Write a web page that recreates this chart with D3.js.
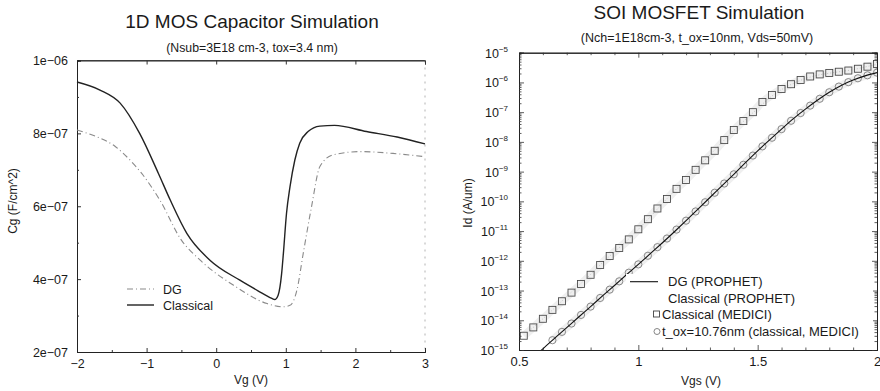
<!DOCTYPE html>
<html><head><meta charset="utf-8">
<script src="https://cdn.jsdelivr.net/npm/d3@7/dist/d3.min.js"></script>
<style>
html,body{margin:0;padding:0;background:#fff;}
svg{display:block;font-family:"Liberation Sans",Arial,Helvetica,sans-serif;}
</style></head>
<body>
<svg id="c" width="880" height="391"></svg>
<script>
// ---------- Left chart data: 1D MOS capacitor ----------
const vgClassical = [-2, -1.67, -1.38, -1.1, -0.83, -0.66, -0.42, -0.09, 0.34, 0.6, 0.8, 0.84, 0.89, 0.94, 0.965, 1.01, 1.06, 1.13, 1.2, 1.32, 1.49, 1.7, 2.16, 2.6, 3.0];
const cgClassical = [9.41e-7, 9.19e-7, 8.83e-7, 8.0e-7, 6.9e-7, 6.17e-7, 5.25e-7, 4.52e-7, 3.97e-7, 3.68e-7, 3.47e-7, 3.44e-7, 3.56e-7, 4.15e-7, 4.7e-7, 5.8e-7, 6.53e-7, 7.27e-7, 7.73e-7, 8.05e-7, 8.2e-7, 8.22e-7, 8.05e-7, 7.9e-7, 7.71e-7];
const vgDG = [-2, -1.72, -1.45, -1.24, -1.07, -0.81, -0.5, -0.23, 0.25, 0.73, 0.96, 1.06, 1.16, 1.25, 1.37, 1.49, 1.68, 2.07, 2.54, 3.0];
const cgDG = [8.09e-7, 7.91e-7, 7.64e-7, 7.27e-7, 6.9e-7, 6.17e-7, 5.07e-7, 4.52e-7, 3.83e-7, 3.33e-7, 3.24e-7, 3.28e-7, 3.7e-7, 4.7e-7, 5.99e-7, 7.09e-7, 7.41e-7, 7.5e-7, 7.45e-7, 7.36e-7];
const vgTicks = [-2, -1, 0, 1, 2, 3];
const cgTicks = [2e-7, 4e-7, 6e-7, 8e-7, 1e-6];
const cgTickLabels = ["2e\u221207", "4e\u221207", "6e\u221207", "8e\u221207", "1e\u221206"];
const leftLegend = ["DG", "Classical"];

// ---------- Right chart data: SOI MOSFET (log10 of Id in A/um) ----------
const vgsLine = [0.55,0.6,0.65,0.7,0.75,0.8,0.85,0.9,0.95,1.0,1.05,1.1,1.15,1.2,1.25,1.3,1.35,1.4,1.45,1.5,1.55,1.6,1.65,1.7,1.75,1.8,1.85,1.9,1.95,2.0];
const logIdDGProphet = [-15.32,-14.96,-14.60,-14.25,-13.89,-13.54,-13.18,-12.83,-12.47,-12.12,-11.76,-11.40,-11.03,-10.65,-10.26,-9.87,-9.48,-9.09,-8.69,-8.30,-7.93,-7.57,-7.22,-6.90,-6.60,-6.33,-6.10,-5.92,-5.78,-5.67];
const logIdClassicalProphet = [-14.31,-13.95,-13.58,-13.20,-12.83,-12.46,-12.06,-11.70,-11.34,-10.94,-10.52,-10.08,-9.66,-9.26,-8.84,-8.44,-8.02,-7.62,-7.24,-6.88,-6.52,-6.24,-6.03,-5.87,-5.76,-5.69,-5.63,-5.57,-5.48,-5.39];
const vgsSquares = [0.52,0.56,0.60,0.64,0.68,0.72,0.76,0.80,0.84,0.88,0.92,0.96,1.00,1.04,1.08,1.12,1.16,1.20,1.24,1.28,1.32,1.36,1.40,1.44,1.48,1.52,1.56,1.60,1.64,1.68,1.72,1.76,1.80,1.84,1.88,1.92,1.96,2.00];
const logIdClassicalMedici = [-14.52,-14.24,-13.95,-13.65,-13.36,-13.07,-12.78,-12.47,-12.14,-11.84,-11.57,-11.28,-10.94,-10.60,-10.24,-9.92,-9.58,-9.28,-8.94,-8.62,-8.30,-7.94,-7.60,-7.30,-7.00,-6.66,-6.42,-6.22,-6.06,-5.92,-5.80,-5.73,-5.68,-5.64,-5.60,-5.54,-5.47,-5.38];
const vgsCircles = [0.64,0.68,0.72,0.76,0.80,0.84,0.88,0.92,0.96,1.00,1.04,1.08,1.12,1.16,1.20,1.24,1.28,1.32,1.36,1.40,1.44,1.48,1.52,1.56,1.60,1.64,1.68,1.72,1.76,1.80,1.84,1.88,1.92,1.96,2.00];
const logIdTox1076 = [-14.67,-14.39,-14.11,-13.82,-13.54,-13.25,-12.97,-12.69,-12.40,-12.12,-11.83,-11.54,-11.25,-10.95,-10.65,-10.34,-10.03,-9.71,-9.40,-9.09,-8.77,-8.46,-8.15,-7.86,-7.57,-7.29,-7.03,-6.78,-6.55,-6.33,-6.14,-5.99,-5.86,-5.76,-5.67];
const vgsTicks = [0.5, 1, 1.5, 2];
const vgsTickLabels = ["0.5", "1", "1.5", "2"];
const idExponents = [-5,-6,-7,-8,-9,-10,-11,-12,-13,-14,-15];
const rightLegend = ["DG (PROPHET)", "Classical (PROPHET)", "Classical (MEDICI)", "t_ox=10.76nm (classical, MEDICI)"];

const svg = d3.select("#c");
const ink = "#1a1a1a";

// ================= LEFT CHART =================
const xL = d3.scaleLinear().domain([-2, 3]).range([77, 425]);
const yL = d3.scaleLinear().domain([2e-7, 1e-6]).range([352, 60.5]);
const L = svg.append("g");

L.append("line").attr("x1", xL(-2)).attr("x2", xL(3)).attr("y1", yL(1e-6)).attr("y2", yL(1e-6)).attr("stroke", "#444").attr("stroke-width", 0.9);
L.append("line").attr("x1", xL(3)).attr("x2", xL(3)).attr("y1", yL(1e-6)).attr("y2", yL(2e-7)).attr("stroke", "#aaa").attr("stroke-width", 0.9).attr("stroke-dasharray", "2,5");

L.append("g").attr("transform", `translate(0,${yL(2e-7)})`)
  .call(d3.axisBottom(xL).tickValues(vgTicks).tickSize(-4).tickPadding(7).tickFormat(d3.format("d")));
L.append("g").attr("transform", `translate(${xL(-2)},0)`)
  .call(d3.axisLeft(yL).tickValues(cgTicks).tickSize(-4).tickPadding(9).tickFormat((d, i) => cgTickLabels[i]));
L.append("g").attr("transform", `translate(0,${yL(1e-6)})`)
  .call(d3.axisTop(xL).tickValues(vgTicks).tickSize(-4).tickFormat(""));
L.append("g").attr("transform", `translate(0,${yL(2e-7)})`)
  .call(d3.axisBottom(xL).tickValues([-1.5,-0.5,0.5,1.5,2.5]).tickSize(-2).tickFormat(""));
L.append("g").attr("transform", `translate(${xL(-2)},0)`)
  .call(d3.axisLeft(yL).tickValues([3e-7,5e-7,7e-7,9e-7]).tickSize(-2).tickFormat(""));
L.selectAll(".domain").attr("stroke", "#222").attr("stroke-width", 1);
L.selectAll(".tick line").attr("stroke", "#333");
L.selectAll(".tick text").attr("font-size", 12.5).attr("fill", ink).attr("font-family", "Liberation Sans, Arial, sans-serif");

const lineL = (xs, ys) => d3.line().x((d, i) => xL(xs[i])).y((d, i) => yL(ys[i])).curve(d3.curveMonotoneX)(xs);
L.append("path").attr("d", lineL(vgDG, cgDG)).attr("fill", "none").attr("stroke", "#8a8a8a").attr("stroke-width", 1.1).attr("stroke-dasharray", "6,3,1,3");
L.append("path").attr("d", lineL(vgClassical, cgClassical)).attr("fill", "none").attr("stroke", "#222").attr("stroke-width", 1.4);

const legL = L.append("g");
legL.append("line").attr("x1", 127).attr("x2", 154).attr("y1", 289).attr("y2", 289).attr("stroke", "#8a8a8a").attr("stroke-width", 1.1).attr("stroke-dasharray", "6,3,1,3");
legL.append("line").attr("x1", 127).attr("x2", 154).attr("y1", 305).attr("y2", 305).attr("stroke", "#222").attr("stroke-width", 1.4);
legL.selectAll("text").data(leftLegend).join("text")
  .attr("x", 163).attr("y", (d, i) => 293.5 + i * 16).attr("font-size", 12.5).attr("fill", ink).text(d => d);

svg.append("text").attr("x", 252).attr("y", 27.5).attr("text-anchor", "middle").attr("font-size", 19).attr("fill", ink).text("1D MOS Capacitor Simulation");
svg.append("text").attr("x", 252).attr("y", 51.5).attr("text-anchor", "middle").attr("font-size", 12.3).attr("fill", ink).text("(Nsub=3E18 cm-3, tox=3.4 nm)");
svg.append("text").attr("x", 251).attr("y", 384).attr("text-anchor", "middle").attr("font-size", 12).attr("fill", ink).text("Vg (V)");
svg.append("text").attr("transform", "translate(17,201) rotate(-90)").attr("text-anchor", "middle").attr("font-size", 12).attr("fill", ink).text("Cg (F/cm^2)");

// ================= RIGHT CHART =================
const xR = d3.scaleLinear().domain([0.5, 2]).range([519, 877]);
const yR = d3.scaleLog().domain([1e-15, 1e-5]).range([350, 52.7]);
const R = svg.append("g");
const majorY = idExponents.map(e => Math.pow(10, e));
const minorY = [];
idExponents.forEach(e => { if (e > -15) for (let m = 2; m <= 9; m++) minorY.push(m * Math.pow(10, e - 1)); });
const minorX = d3.range(6, 20).map(v => v / 10).filter(v => vgsTicks.indexOf(v) < 0);

R.append("g").attr("transform", `translate(0,${yR(1e-15)})`)
  .call(d3.axisBottom(xR).tickValues(vgsTicks).tickSize(-5).tickPadding(7).tickFormat((d, i) => vgsTickLabels[i]));
R.append("g").attr("transform", `translate(0,${yR(1e-5)})`)
  .call(d3.axisTop(xR).tickValues(vgsTicks).tickSize(-5).tickFormat(""));
R.append("g").attr("transform", `translate(0,${yR(1e-15)})`).call(d3.axisBottom(xR).tickValues(minorX).tickSize(-2.5).tickFormat(""));
R.append("g").attr("transform", `translate(0,${yR(1e-5)})`).call(d3.axisTop(xR).tickValues(minorX).tickSize(-2.5).tickFormat(""));
R.append("g").attr("transform", `translate(${xR(0.5)},0)`)
  .call(d3.axisLeft(yR).tickValues(majorY).tickSize(-5).tickFormat(""));
R.append("g").attr("transform", `translate(${xR(2)},0)`).call(d3.axisRight(yR).tickValues(majorY).tickSize(-5).tickFormat(""));
R.append("g").attr("transform", `translate(${xR(0.5)},0)`).call(d3.axisLeft(yR).tickValues(minorY).tickSize(-2.5).tickFormat(""));
R.append("g").attr("transform", `translate(${xR(2)},0)`).call(d3.axisRight(yR).tickValues(minorY).tickSize(-2.5).tickFormat(""));
R.selectAll(".domain").attr("stroke", "#222").attr("stroke-width", 1);
R.selectAll(".tick line").attr("stroke", "#333").attr("stroke-width", 0.8);
R.selectAll(".tick text").attr("font-size", 13).attr("fill", ink);

const ylab = R.append("g");
idExponents.forEach(e => {
  const t = ylab.append("text").attr("x", 508).attr("y", yR(Math.pow(10, e)) + 5).attr("text-anchor", "end").attr("fill", ink).attr("font-size", 12.5);
  t.append("tspan").text("10");
  t.append("tspan").attr("dy", -6).attr("font-size", 8).text("\u2212" + Math.abs(e));
});

svg.append("clipPath").attr("id", "clipR").append("rect").attr("x", xR(0.5)).attr("y", yR(1e-5)).attr("width", xR(2) - xR(0.5)).attr("height", yR(1e-15) - yR(1e-5));
const P = R.append("g").attr("clip-path", "url(#clipR)");
const lineR = (xs, ys) => d3.line().x((d, i) => xR(xs[i])).y((d, i) => yR(Math.pow(10, ys[i]))).curve(d3.curveMonotoneX)(xs);

P.append("path").attr("d", lineR(vgsSquares, logIdClassicalMedici)).attr("fill", "none").attr("stroke", "#efefef").attr("stroke-width", 8);
P.append("path").attr("d", lineR(vgsCircles, logIdTox1076)).attr("fill", "none").attr("stroke", "#efefef").attr("stroke-width", 8);
P.append("path").attr("d", lineR(vgsLine, logIdClassicalProphet)).attr("fill", "none").attr("stroke", "#b8b8b8").attr("stroke-width", 0.8).attr("stroke-dasharray", "1,2");

P.selectAll("rect.sq").data(vgsSquares).join("rect").attr("class", "sq")
  .attr("x", d => xR(d) - 3.5).attr("y", (d, i) => yR(Math.pow(10, logIdClassicalMedici[i])) - 3.5)
  .attr("width", 7).attr("height", 7).attr("fill", "none").attr("stroke", "#444").attr("stroke-width", 0.85);
P.selectAll("circle.ci").data(vgsCircles).join("circle").attr("class", "ci")
  .attr("cx", d => xR(d)).attr("cy", (d, i) => yR(Math.pow(10, logIdTox1076[i])))
  .attr("r", 3.6).attr("fill", "none").attr("stroke", "#777").attr("stroke-width", 0.85);
P.append("path").attr("d", lineR(vgsLine, logIdDGProphet)).attr("fill", "none").attr("stroke", "#111").attr("stroke-width", 1.1);

const legR = R.append("g");
legR.append("rect").attr("x", 626).attr("y", 274).attr("width", 247).attr("height", 66).attr("fill", "#fff");
legR.append("line").attr("x1", 630).attr("x2", 658).attr("y1", 281.7).attr("y2", 281.7).attr("stroke", "#111").attr("stroke-width", 1.1);
legR.append("rect").attr("x", 653.5).attr("y", 311).attr("width", 6).attr("height", 6).attr("fill", "none").attr("stroke", "#444").attr("stroke-width", 0.9);
legR.append("circle").attr("cx", 657).attr("cy", 331.5).attr("r", 3).attr("fill", "none").attr("stroke", "#777").attr("stroke-width", 0.9);
legR.selectAll("text").data(rightLegend).join("text")
  .attr("x", (d, i) => i < 2 ? 668 : 662).attr("y", (d, i) => 286 + i * 16.7)
  .attr("font-size", 13).attr("fill", ink).text(d => d);

svg.append("text").attr("x", 699).attr("y", 19).attr("text-anchor", "middle").attr("font-size", 19).attr("fill", ink).text("SOI MOSFET Simulation");
svg.append("text").attr("x", 697).attr("y", 42).attr("text-anchor", "middle").attr("font-size", 12.5).attr("fill", ink).text("(Nch=1E18cm-3, t_ox=10nm, Vds=50mV)");
svg.append("text").attr("x", 701).attr("y", 385).attr("text-anchor", "middle").attr("font-size", 12).attr("fill", ink).text("Vgs (V)");
svg.append("text").attr("transform", "translate(472,203) rotate(-90)").attr("text-anchor", "middle").attr("font-size", 12).attr("fill", ink).text("Id (A/um)");
</script>
</body></html>
